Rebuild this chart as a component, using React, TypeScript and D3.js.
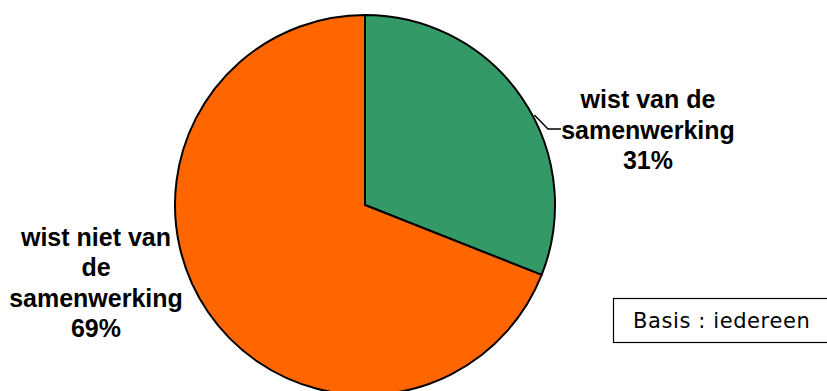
import React from "react";
import * as d3 from "d3";

const categories = ["wist van de samenwerking", "wist niet van de samenwerking"];
const values = [31, 69];
const colors = ["#339966", "#FF6600"];
const labelLines = [
  ["wist van de", "samenwerking", "31%"],
  ["wist niet van", "de", "samenwerking", "69%"],
];
const basisText = "Basis : iedereen";

export default function App() {
  const W = 827, H = 391;
  const cx = 365, cy = 205, r = 190;
  const pie = d3.pie<number>().sort(null).value((d) => d);
  const arcs = pie(values);
  const arcGen = d3.arc<d3.PieArcDatum<number>>().innerRadius(0).outerRadius(r);

  const edgeY = 115;
  const edgeX = Math.sqrt(r * r - (cy - edgeY) * (cy - edgeY)) + 2;

  return (
    <svg width={W} height={H} style={{ position: "absolute", left: 0, top: 0 }}>
      <rect width={W} height={H} fill="#fff" />
      <g transform={`translate(${cx},${cy})`}>
        {arcs.map((a, i) => (
          <path key={categories[i]} d={arcGen(a) || ""} fill={colors[i]} stroke="#000" strokeWidth={2} strokeLinejoin="round" />
        ))}
        <polyline
          points={`${edgeX},${edgeY - cy} ${548 - cx},${129 - cy} ${561 - cx},${129 - cy}`}
          fill="none"
          stroke="#000"
          strokeWidth={1.5}
        />
      </g>
      <g fontFamily="'Liberation Sans', Arial, sans-serif" fontWeight="bold" fontSize={25} fill="#000" textAnchor="middle">
        {labelLines[0].map((t, i) => (
          <text key={"r" + i} x={648} y={108 + i * 30.5}>{t}</text>
        ))}
        {labelLines[1].map((t, i) => (
          <text key={"l" + i} x={96} y={246 + i * 30.3}>{t}</text>
        ))}
      </g>
      <rect x={613.5} y={298.5} width={230} height={44} fill="#fff" stroke="#000" strokeWidth={1.2} />
      <text x={633} y={328} fontFamily="'DejaVu Sans', Verdana, sans-serif" fontSize={21} letterSpacing={0.6} fill="#000">{basisText}</text>
    </svg>
  );
}
